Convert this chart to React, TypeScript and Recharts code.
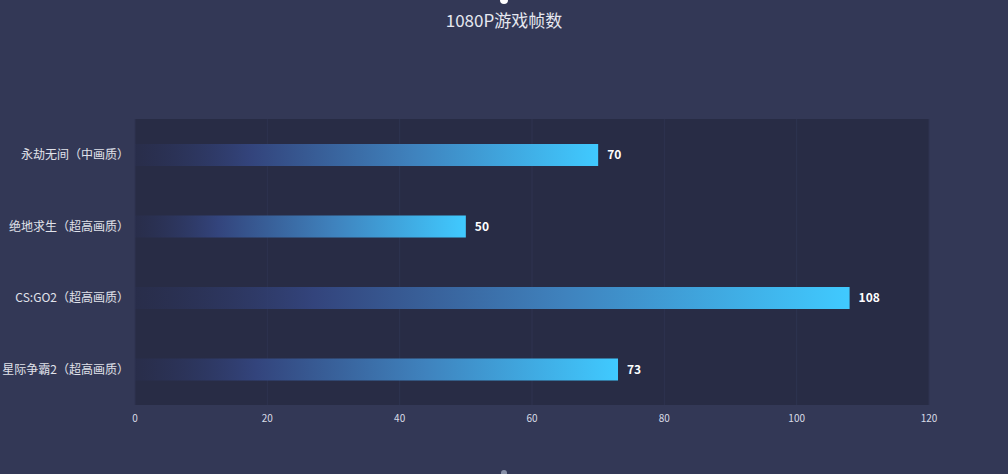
import * as React from 'react';
import { BarChart, Bar, XAxis, YAxis, CartesianGrid, LabelList } from 'recharts';

const games = ['永劫无间（中画质）', '绝地求生（超高画质）', 'CS:GO2（超高画质）', '星际争霸2（超高画质）'];
const fps = [70, 50, 108, 73];
const xTicks = [0, 20, 40, 60, 80, 100, 120];

const data = games.map((name, i) => ({ name, fps: fps[i] }));

const font = '"Noto Sans CJK SC", "Noto Sans", sans-serif';

const App: React.FC = () => {
  return (
    <div
      style={{
        position: 'absolute',
        left: 0,
        top: 0,
        width: 1008,
        height: 474,
        background: '#333856',
        overflow: 'hidden',
        fontFamily: font,
      }}
    >
      <div style={{ position: 'absolute', left: 500, top: -4, width: 8, height: 8, borderRadius: 4, background: '#fff' }} />
      <div style={{ position: 'absolute', left: 501, top: 470, width: 6, height: 6, borderRadius: 3, background: '#8890a8' }} />
      <div
        style={{
          position: 'absolute',
          top: 7,
          left: 0,
          width: 1008,
          textAlign: 'center',
          color: '#e6e8f0',
          fontSize: 17,
        }}
      >
        1080P游戏帧数
      </div>
      <BarChart
        width={1008}
        height={474}
        data={data}
        layout="vertical"
        margin={{ top: 119, right: 79, left: 0, bottom: 0 }}
      >
        <defs>
          <linearGradient id="barGrad" x1="0" y1="0" x2="1" y2="0">
            <stop offset="0%" stopColor="#2c3460" stopOpacity={0.2} />
            <stop offset="25%" stopColor="#33447c" stopOpacity={1} />
            <stop offset="60%" stopColor="#3f82bd" stopOpacity={1} />
            <stop offset="100%" stopColor="#40caff" stopOpacity={1} />
          </linearGradient>
        </defs>
        <CartesianGrid horizontal={false} fill="#282c45" stroke="#2e3350" />
        <XAxis
          type="number"
          domain={[0, 120]}
          ticks={xTicks}
          height={69}
          axisLine={false}
          tickLine={false}
          tickSize={0}
          tickMargin={10}
          tick={{ fill: '#d8dbe6', fontSize: 10, fontFamily: font }}
        />
        <YAxis
          type="category"
          dataKey="name"
          width={135}
          axisLine={false}
          tickLine={false}
          tickSize={0}
          tickMargin={6}
          tick={{ fill: '#e0e2ea', fontSize: 12, fontFamily: font }}
        />
        <Bar dataKey="fps" barSize={22} fill="url(#barGrad)" isAnimationActive={false}>
          <LabelList
            dataKey="fps"
            position="right"
            offset={9}
            style={{ fill: '#ffffff', fontSize: 12, fontWeight: 700, fontFamily: font }}
          />
        </Bar>
      </BarChart>
    </div>
  );
};

export default App;
